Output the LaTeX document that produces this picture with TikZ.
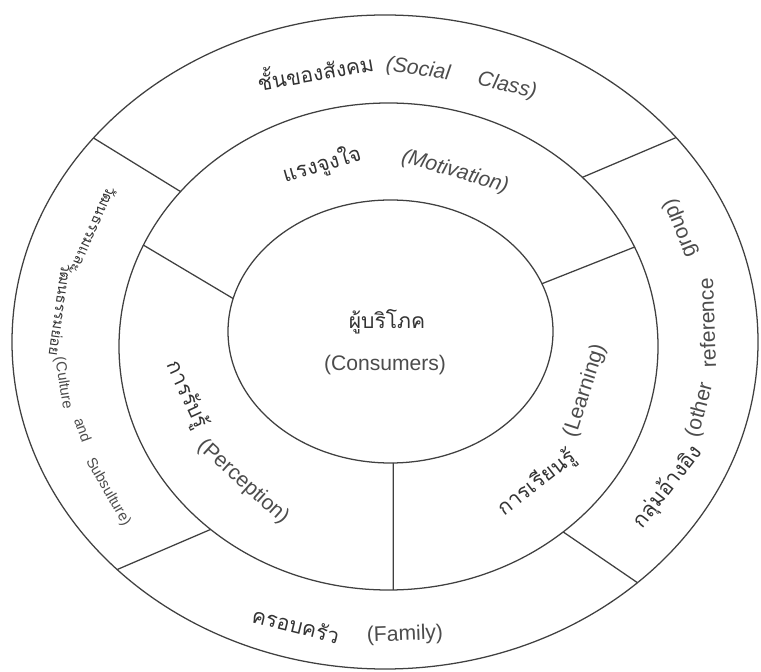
\documentclass[tikz,border=0pt]{standalone}
\usepackage{fontspec}
\setmainfont{Liberation Sans}
\newfontfamily\thaifont[Script=Thai]{Loma}
\usepackage{tikz}

\tikzset{
  ring/.style={line width=0.9pt, draw=black!75},
  eng/.style={text=black!70, inner sep=0pt, font=\fontsize{15}{18}\selectfont},
  engit/.style={eng, font=\fontsize{15}{18}\selectfont\itshape},
  engsmall/.style={eng, font=\fontsize{10.5}{12}\selectfont},
  thai/.style={text=black!80, inner sep=0pt, font=\thaifont\fontsize{15}{18}\selectfont},
  thaismall/.style={thai, font=\thaifont\fontsize{10.5}{12}\selectfont}
}

\begin{document}
\begin{tikzpicture}[x=0.025cm, y=0.025cm]
\useasboundingbox (0,0) rectangle (761,671);
\coordinate (co) at (385,329) ;
\coordinate (cm) at (388.5,324.5) ;
\coordinate (ci) at (390.5,339.5) ;
\draw[ring] (co) ellipse [x radius=373, y radius=327] ;
\draw[ring] (cm) ellipse [x radius=269.5, y radius=243.5] ;
\draw[ring] (ci) ellipse [x radius=162.5, y radius=131.5] ;
\coordinate (oul1) at ([shift={(cm)}]140.5:269.5 and 243.5) ;
\coordinate (oul2) at ([shift={(co)}]141.4:373 and 327) ;
\coordinate (our1) at ([shift={(cm)}]44:269.5 and 243.5) ;
\coordinate (our2) at ([shift={(co)}]38.7:373 and 327) ;
\coordinate (olr1) at ([shift={(cm)}]-49.6:269.5 and 243.5) ;
\coordinate (olr2) at ([shift={(co)}]-47.4:373 and 327) ;
\coordinate (oll1) at ([shift={(cm)}]228.7:269.5 and 243.5) ;
\coordinate (oll2) at ([shift={(co)}]224.1:373 and 327) ;
\coordinate (mul1) at ([shift={(ci)}]165.5:162.5 and 131.5) ;
\coordinate (mul2) at ([shift={(cm)}]155.4:269.5 and 243.5) ;
\coordinate (mr1) at ([shift={(ci)}]21.3:162.5 and 131.5) ;
\coordinate (mr2) at ([shift={(cm)}]24.1:269.5 and 243.5) ;
\coordinate (mb1) at ([shift={(ci)}]-89:162.5 and 131.5) ;
\coordinate (mb2) at ([shift={(cm)}]-89:269.5 and 243.5) ;
\draw[ring] (oul1) -- (oul2) ;
\draw[ring] (our1) -- (our2) ;
\draw[ring] (olr1) -- (olr2) ;
\draw[ring] (oll1) -- (oll2) ;
\draw[ring] (mul1) -- (mul2) ;
\draw[ring] (mr1) -- (mr2) ;
\draw[ring] (mb1) -- (mb2) ;
\node[thai] (consth) at (387,349) {ผู้บริโภค} ;
\node[eng] (consen) at (385,306) {(Consumers)} ;
\node[thai, rotate=10] (classth) at (315,601) {ชั้นของสังคม} ;
\node[engit, rotate=-8] (classen1) at (418,601) {(Social} ;
\node[engit, rotate=-13] (classen2) at (507,585) {Class)} ;
\node[thai, rotate=16] (motth) at (322,506) {แรงจูงใจ} ;
\node[engit, rotate=-16] (moten) at (455,499) {(Motivation)} ;
\node[thai, rotate=-65] (percth) at (187,276) {การรับรู้} ;
\node[eng, rotate=-42] (percen) at (243,189) {(Perception)} ;
\node[thai, rotate=38] (learnth) at (537,188) {การเรียนรู้} ;
\node[eng, rotate=72] (learnen) at (585,280) {(Learning)} ;
\node[thai, rotate=52] (refth) at (668,184) {กลุ่มอ้างอิง} ;
\node[eng, rotate=75] (refen1) at (700,261) {(other} ;
\node[eng, rotate=92] (refen2) at (707,348) {reference} ;
\node[eng, rotate=112] (refen3) at (680,443) {group)} ;
\node[thaismall, rotate=-114] (cultth1) at (94,441) {วัฒนธรรมและ} ;
\node[thaismall, rotate=-98] (cultth2) at (61,361) {วัฒนธรรมย่อย} ;
\node[engsmall, rotate=-81] (culten1) at (63,288) {(Culture} ;
\node[engsmall, rotate=-70] (culten2) at (83,241) {and} ;
\node[engsmall, rotate=-60] (culten3) at (108,179) {Subsulture)} ;
\node[thai, rotate=-14] (famth) at (296,46) {ครอบครัว} ;
\node[eng, rotate=2] (famen) at (405,36) {(Family)} ;
\end{tikzpicture}
\end{document}
